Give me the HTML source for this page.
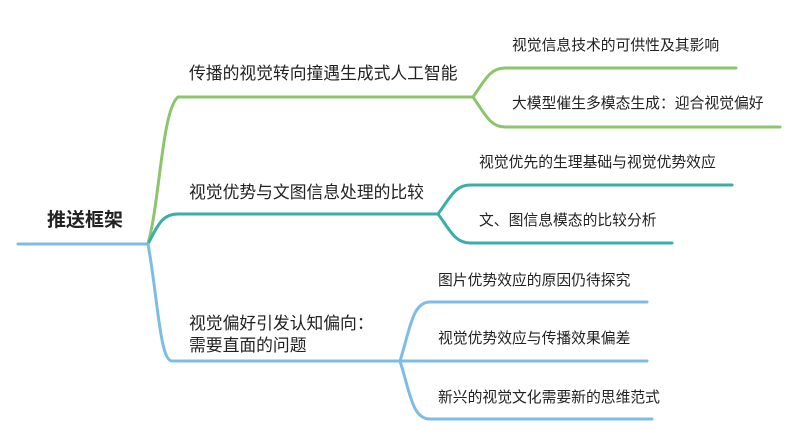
<!DOCTYPE html>
<html><head><meta charset="utf-8"><style>
body{margin:0;width:800px;height:439px;background:#fff;overflow:hidden}
svg{position:absolute;left:0;top:0}
text{font-family:"Liberation Sans","Noto Sans CJK SC",sans-serif;fill:#222}
</style></head><body>
<svg width="800" height="439" viewBox="0 0 800 439">
<g fill="none" stroke-width="3" stroke-linecap="round">
<path d="M18 244 H148" stroke="#7dbde5"/>
<path d="M148 244 C160 200 162 110 178 97 H473" stroke="#8dc56b"/>
<path d="M473 97 C485 80 490 68 505 68 H736" stroke="#8dc56b"/>
<path d="M473 97 C485 114 490 127 505 127 H780" stroke="#8dc56b"/>
<path d="M148 244 C158 225 162 214 178 214 H438" stroke="#3aaea8"/>
<path d="M438 214 C450 198 455 185 470 185 H732" stroke="#3aaea8"/>
<path d="M438 214 C450 230 455 243 470 243 H672" stroke="#3aaea8"/>
<path d="M148 244 C158 300 160 361 172 361 H400" stroke="#7dbde5"/>
<path d="M400 361 C410 330 412 302 430 302 H647" stroke="#7dbde5"/>
<path d="M400 361 H647" stroke="#7dbde5"/>
<path d="M400 361 C410 392 412 419 430 419 H652" stroke="#7dbde5"/>
</g>
<text x="47" y="226" font-size="19" font-weight="bold">推送框架</text>
<text x="189" y="79" font-size="16.8">传播的视觉转向撞遇生成式人工智能</text>
<text x="189" y="198" font-size="16.8">视觉优势与文图信息处理的比较</text>
<text x="189" y="329" font-size="16.8">视觉偏好引发认知偏向：</text>
<text x="189" y="351" font-size="16.8">需要直面的问题</text>
<g font-size="14.8">
<text x="512" y="50">视觉信息技术的可供性及其影响</text>
<text x="512" y="108">大模型催生多模态生成：迎合视觉偏好</text>
<text x="479" y="167">视觉优先的生理基础与视觉优势效应</text>
<text x="479" y="225">文、图信息模态的比较分析</text>
<text x="438" y="285">图片优势效应的原因仍待探究</text>
<text x="438" y="343">视觉优势效应与传播效果偏差</text>
<text x="438" y="402">新兴的视觉文化需要新的思维范式</text>
</g>
</svg>
</body></html>
